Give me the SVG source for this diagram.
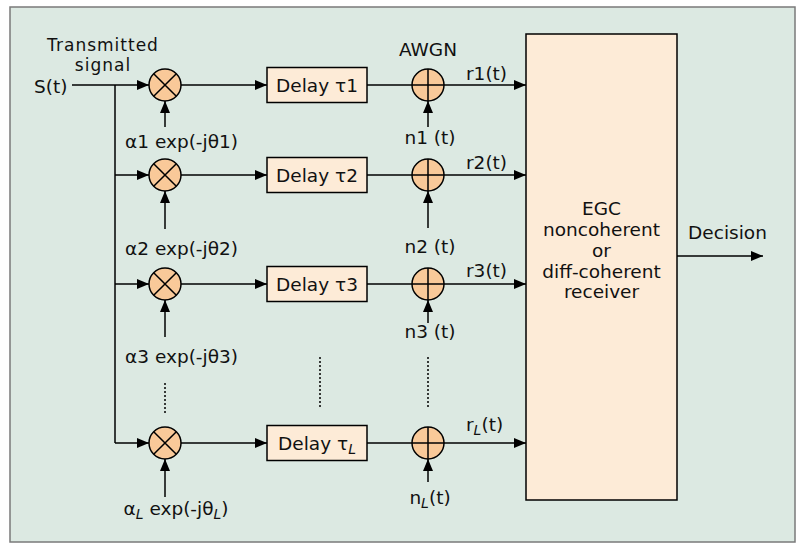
<svg xmlns="http://www.w3.org/2000/svg" width="804" height="544" viewBox="0 0 804 544">
<defs>
<marker id="arr" markerUnits="userSpaceOnUse" markerWidth="12" markerHeight="10" refX="12" refY="5" orient="auto">
<path d="M0,0 L12,5 L0,10 z" fill="#000"/>
</marker>
<style>
text{font-family:"DejaVu Sans","Liberation Sans",sans-serif;font-size:18.5px;fill:#111}
.c{text-anchor:middle}
.tt{font-size:17px;letter-spacing:1px}
.sub{font-size:14px;font-style:italic}
.ln{stroke:#000;stroke-width:1.5;fill:none}
.ar{stroke:#000;stroke-width:1.5;fill:none;marker-end:url(#arr)}
.dot{stroke:#000;stroke-width:1.5;fill:none;stroke-dasharray:2 2}
.op{fill:#F9C999;stroke:#000;stroke-width:1.5}
.box{fill:#FDEBD7;stroke:#000;stroke-width:1.5}
</style>
</defs>
<rect x="10" y="7" width="785" height="535" fill="#DCE9E2" stroke="#7a7a7a" stroke-width="1.5"/>

<g id="labels-input">
<text class="c tt" x="103" y="51">Transmitted</text>
<text class="c tt" x="103" y="71">signal</text>
<text x="34" y="93">S(t)</text>
<text class="c" x="428" y="56">AWGN</text>
</g>

<g id="connectors">
<path class="ln" d="M115,85 V443"/>
<path class="ar" d="M72,85 H149"/>
<path class="ar" d="M115,175 H149"/>
<path class="ar" d="M115,284 H149"/>
<path class="ar" d="M115,443 H149"/>
<path class="ar" d="M181,85 H267"/>
<path class="ar" d="M181,175 H267"/>
<path class="ar" d="M181,284 H267"/>
<path class="ar" d="M181,443 H267"/>
<path class="ln" d="M367,85 H412"/>
<path class="ln" d="M367,175 H412"/>
<path class="ln" d="M367,284 H412"/>
<path class="ln" d="M367,443 H412"/>
<path class="ar" d="M444,85 H526"/>
<path class="ar" d="M444,175 H526"/>
<path class="ar" d="M444,284 H526"/>
<path class="ar" d="M444,443 H526"/>
<path class="ar" d="M165,127 V101"/>
<path class="ar" d="M165,229 V191"/>
<path class="ar" d="M165,337 V300"/>
<path class="ar" d="M165,497 V459"/>
<path class="ar" d="M428,127 V101"/>
<path class="ar" d="M428,228 V191"/>
<path class="ar" d="M428,323 V300"/>
<path class="ar" d="M428,482 V459"/>
<path class="ar" d="M677,256 H763"/>
<path class="dot" d="M165,383 V414"/>
<path class="dot" d="M320,357 V409"/>
<path class="dot" d="M428,357 V409"/>
</g>

<g id="mult1"><circle class="op" cx="165" cy="85" r="16"/><path class="ln" d="M153.7,73.7 L176.3,96.3 M176.3,73.7 L153.7,96.3"/></g>
<g id="mult2"><circle class="op" cx="165" cy="175" r="16"/><path class="ln" d="M153.7,163.7 L176.3,186.3 M176.3,163.7 L153.7,186.3"/></g>
<g id="mult3"><circle class="op" cx="165" cy="284" r="16"/><path class="ln" d="M153.7,272.7 L176.3,295.3 M176.3,272.7 L153.7,295.3"/></g>
<g id="multL"><circle class="op" cx="165" cy="443" r="16"/><path class="ln" d="M153.7,431.7 L176.3,454.3 M176.3,431.7 L153.7,454.3"/></g>

<g id="delay1"><rect class="box" x="267" y="67.5" width="100" height="35"/><text class="c" x="317" y="92">Delay τ1</text></g>
<g id="delay2"><rect class="box" x="267" y="157.5" width="100" height="35"/><text class="c" x="317" y="182">Delay τ2</text></g>
<g id="delay3"><rect class="box" x="267" y="266.5" width="100" height="35"/><text class="c" x="317" y="291">Delay τ3</text></g>
<g id="delayL"><rect class="box" x="267" y="425.5" width="100" height="35"/><text class="c" x="317" y="450">Delay τ<tspan class="sub" dy="4">L</tspan></text></g>

<g id="add1"><circle class="op" cx="428" cy="85" r="16"/><path class="ln" d="M412,85 H444 M428,69 V101"/></g>
<g id="add2"><circle class="op" cx="428" cy="175" r="16"/><path class="ln" d="M412,175 H444 M428,159 V191"/></g>
<g id="add3"><circle class="op" cx="428" cy="284" r="16"/><path class="ln" d="M412,284 H444 M428,268 V300"/></g>
<g id="addL"><circle class="op" cx="428" cy="443" r="16"/><path class="ln" d="M412,443 H444 M428,427 V459"/></g>

<g id="receiver">
<rect class="box" x="526" y="34" width="151" height="466"/>
<text class="c" x="601.5" y="215">EGC</text>
<text class="c" x="601.5" y="236">noncoherent</text>
<text class="c" x="601.5" y="256.5">or</text>
<text class="c" x="601.5" y="277.5">diff-coherent</text>
<text class="c" x="601.5" y="298">receiver</text>
</g>

<g id="labels">
<text class="c" x="181.5" y="148">α1 exp(-jθ1)</text>
<text class="c" x="181.5" y="255">α2 exp(-jθ2)</text>
<text class="c" x="181.5" y="363">α3 exp(-jθ3)</text>
<text class="c" x="176" y="515">α<tspan class="sub" dy="4">L</tspan><tspan dy="-4"> exp(-jθ</tspan><tspan class="sub" dy="4">L</tspan><tspan dy="-4">)</tspan></text>
<text class="c" x="430" y="144">n1 (t)</text>
<text class="c" x="430" y="253">n2 (t)</text>
<text class="c" x="430" y="338">n3 (t)</text>
<text class="c" x="430" y="504">n<tspan class="sub" dy="4">L</tspan><tspan dy="-4">(t)</tspan></text>
<text x="466" y="80">r1(t)</text>
<text x="466" y="169">r2(t)</text>
<text x="466" y="277">r3(t)</text>
<text x="466" y="431">r<tspan class="sub" dy="4">L</tspan><tspan dy="-4">(t)</tspan></text>
<text class="c" x="727.5" y="239">Decision</text>
</g>
</svg>
